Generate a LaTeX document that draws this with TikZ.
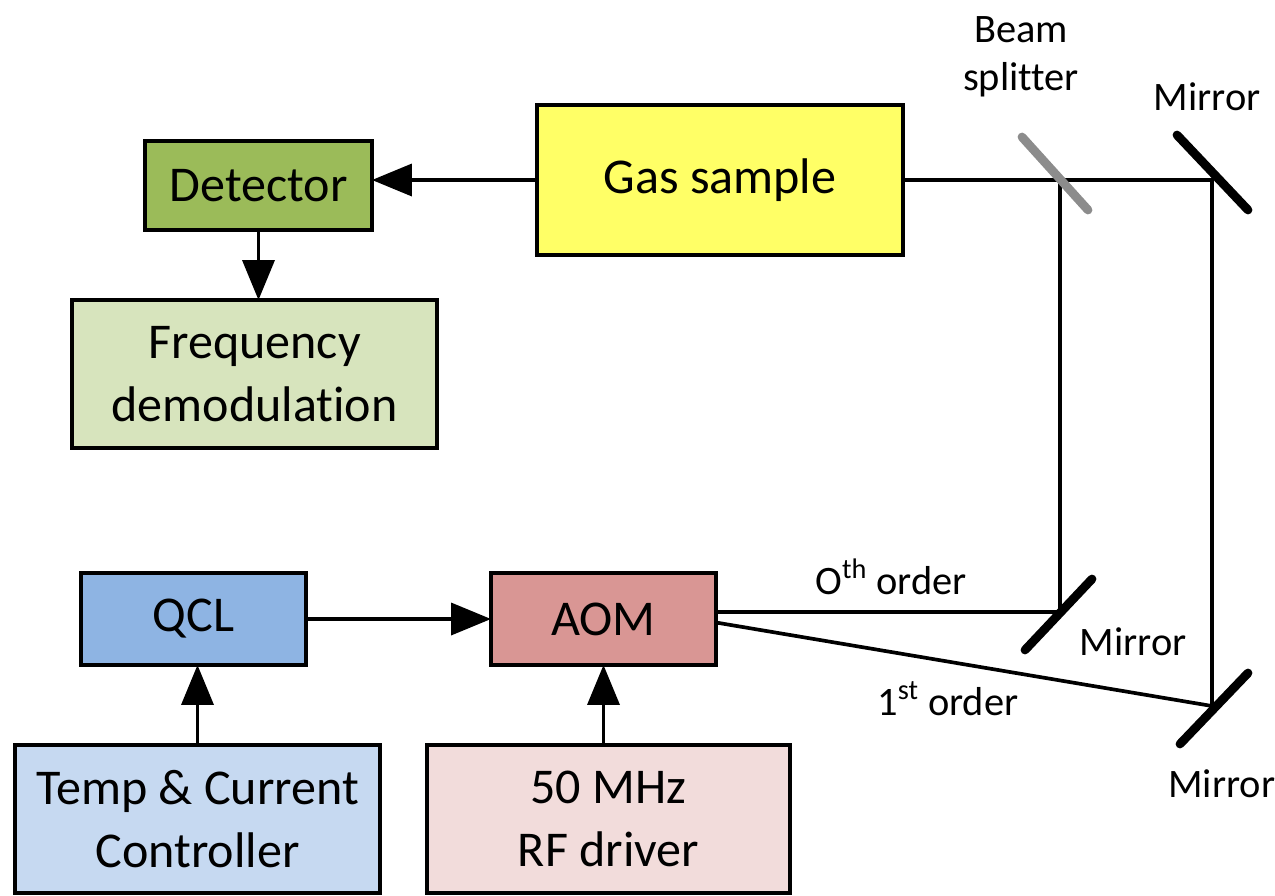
\documentclass[tikz,border=0pt]{standalone}
\usepackage{fontspec}
\setmainfont[Ligatures=NoCommon]{Carlito}
\usetikzlibrary{arrows.meta,calc}

\definecolor{detgreen}{HTML}{9BBB59}
\definecolor{demgreen}{HTML}{D7E4BD}
\definecolor{gasyellow}{HTML}{FFFF66}
\definecolor{qclblue}{HTML}{8EB4E3}
\definecolor{ctrlblue}{HTML}{C6D9F1}
\definecolor{aomred}{HTML}{D99694}
\definecolor{rfpink}{HTML}{F2DCDB}
\definecolor{splitgray}{HTML}{8C8C8C}

\tikzset{
  blk/.style={draw, line width=2.6pt, inner sep=0pt, outer sep=0pt, align=center,
    font=\fontsize{28.5}{36}\selectfont},
  beam/.style={line width=2.1pt},
  sig/.style={beam, -{Triangle[length=0.8cm,width=0.64cm]}},
  optic/.style={line width=5pt, line cap=round},
  lbl/.style={inner sep=0pt, font=\fontsize{23}{27}\selectfont, align=center}
}

\begin{document}
\begin{tikzpicture}[x=0.02cm,y=-0.02cm]
        \clip (0,0) rectangle (1275,896);

            % boxes
            \node[blk, fill=detgreen, minimum width=4.54cm, minimum height=1.78cm] (det) at (258.5,185.5) {Detector};
            \node[blk, fill=demgreen, minimum width=7.3cm, minimum height=2.96cm] (dem) at (254.5,374) {Frequency\\demodulation};
            \node[blk, fill=gasyellow, minimum width=7.32cm, minimum height=3.0cm] (gas) at (720,180) {Gas sample};
            \node[blk, fill=qclblue, minimum width=4.5cm, minimum height=1.84cm] (qcl) at (193.5,619) {QCL};
            \node[blk, fill=aomred, minimum width=4.5cm, minimum height=1.84cm] (aom) at (603.5,619) {AOM};
            \node[blk, fill=ctrlblue, minimum width=7.3cm, minimum height=2.96cm] (ctrl) at (197.5,819) {Temp \& Current\\Controller};
            \node[blk, fill=rfpink, minimum width=7.26cm, minimum height=2.96cm] (rf) at (608.5,819) {50 MHz\\RF driver};

            % optics
            \coordinate (bs) at (1060,180);
            \coordinate (m1) at (1212,180);
            \coordinate (m2) at (1060,612);
            \coordinate (m3) at (1212,706);

            % beams
            \draw[beam] (gas.east) -- (bs) -- (m1) -- (m3);
            \draw[beam] (bs) -- (m2) -- (aom.east |- m2);
            \draw[beam] ([yshift=-2pt]aom.east) -- (m3);

            \draw[optic, splitgray] ($(bs)+(-38,-43)$) -- ($(bs)+(28,30)$);
            \draw[optic] ($(m1)+(-35,-45)$) -- ($(m1)+(36,30)$);
            \draw[optic] ($(m2)+(-35,38)$) -- ($(m2)+(32,-33)$);
            \draw[optic] ($(m3)+(-32,38)$) -- ($(m3)+(36,-33)$);

            % signals
            \draw[sig] (gas.west) -- (gas.west -| det.east);
            \draw[sig] (det.south) -- (det.south |- dem.north);
            \draw[sig] (qcl) -- (aom);
            \draw[sig] (ctrl.north) -- (qcl.south -| ctrl.north);
            \draw[sig] (aom.south |- rf.north) -- (aom.south);

            % labels
            \node[lbl] (bslbl) at (1021,57) {Beam\\splitter};
            \node[lbl, anchor=base] (m1lbl) at (1207,110) {Mirror};
            \node[lbl, anchor=base] (m2lbl) at (1133,655) {Mirror};
            \node[lbl, anchor=base west] (m3lbl) at (1168,797) {Mirror};
            \node[lbl, anchor=base west] (ord0) at (815,594) {O\textsuperscript{th} order};
            \node[lbl, anchor=base west] (ord1) at (877,715) {1\textsuperscript{st} order};
        \end{tikzpicture}
\end{document}
